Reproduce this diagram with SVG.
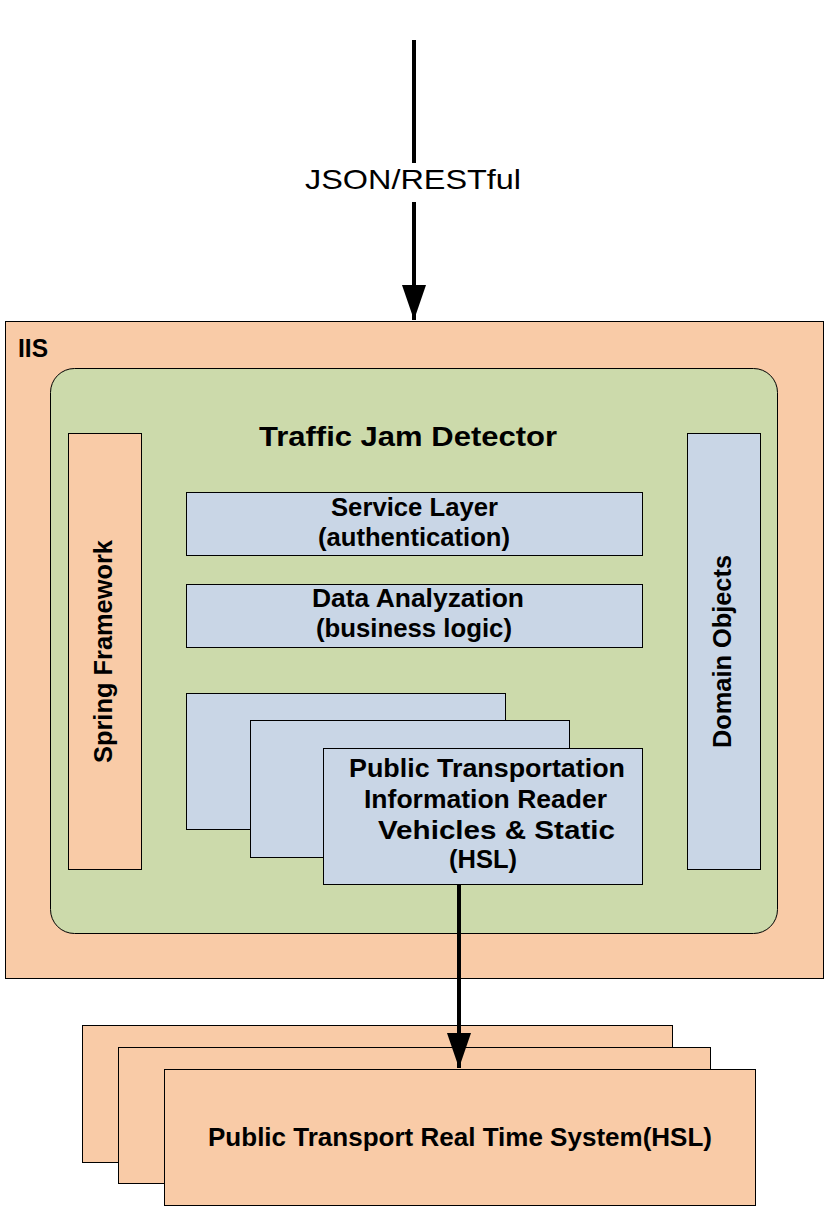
<svg xmlns="http://www.w3.org/2000/svg" width="826" height="1210" viewBox="0 0 826 1210">
<defs>
<style>
.peach{fill:#F9CBA7;stroke:#000;stroke-width:1}
.green{fill:#CCDAAB;stroke:#000;stroke-width:1}
.blue{fill:#C9D6E6;stroke:#000;stroke-width:1}
.t{font-family:"Liberation Sans",Arial,sans-serif;font-weight:bold;fill:#000;text-anchor:middle;font-size:25px}
.conn{stroke:#000;stroke-width:4;fill:none}
</style>
<marker id="ah" markerWidth="35" markerHeight="24" refX="35" refY="12" orient="auto" markerUnits="userSpaceOnUse" viewBox="0 0 35 24">
<path d="M0,0 L35,12 L0,24 Z" fill="#000"/>
</marker>
</defs>
<rect width="826" height="1210" fill="#fff"/>
<g id="iis">
<rect class="peach" x="5.5" y="321.5" width="818" height="657"/>
<text class="t" x="18" y="357" style="text-anchor:start" textLength="30" lengthAdjust="spacingAndGlyphs">IIS</text>
</g>
<g id="traffic-jam-detector">
<rect class="green" x="50.5" y="368.5" width="727" height="565" rx="24"/>
<text class="t" x="408" y="446" style="font-size:27px" textLength="298" lengthAdjust="spacingAndGlyphs">Traffic Jam Detector</text>
</g>
<g id="spring-framework">
<rect class="peach" x="68.5" y="433.5" width="73" height="436"/>
<text class="t" transform="translate(112,651.5) rotate(-90)" textLength="223" lengthAdjust="spacingAndGlyphs">Spring Framework</text>
</g>
<g id="domain-objects">
<rect class="blue" x="687.5" y="433.5" width="73" height="436"/>
<text class="t" transform="translate(731,651.5) rotate(-90)" textLength="193" lengthAdjust="spacingAndGlyphs">Domain Objects</text>
</g>
<g id="service-layer">
<rect class="blue" x="186.5" y="492.5" width="456" height="63"/>
<text class="t" x="414.5" y="516" textLength="167" lengthAdjust="spacingAndGlyphs">Service Layer</text>
<text class="t" x="414" y="546" textLength="192" lengthAdjust="spacingAndGlyphs">(authentication)</text>
</g>
<g id="data-analyzation">
<rect class="blue" x="186.5" y="584.5" width="456" height="63"/>
<text class="t" x="418" y="607" textLength="212" lengthAdjust="spacingAndGlyphs">Data Analyzation</text>
<text class="t" x="414" y="637" textLength="196" lengthAdjust="spacingAndGlyphs">(business logic)</text>
</g>
<g id="pt-reader">
<rect class="blue" x="186.5" y="693.5" width="319" height="136"/>
<rect class="blue" x="250.5" y="720.5" width="319" height="137"/>
<rect class="blue" x="323.5" y="748.5" width="319" height="136"/>
<text class="t" x="487" y="777" textLength="276" lengthAdjust="spacingAndGlyphs">Public Transportation</text>
<text class="t" x="485.5" y="808" textLength="243" lengthAdjust="spacingAndGlyphs">Information Reader</text>
<text class="t" x="496.5" y="839" textLength="237" lengthAdjust="spacingAndGlyphs">Vehicles &amp; Static</text>
<text class="t" x="483" y="868" textLength="68" lengthAdjust="spacingAndGlyphs">(HSL)</text>
</g>
<g id="pt-realtime">
<rect class="peach" x="82.5" y="1025.5" width="590" height="137"/>
<rect class="peach" x="118.5" y="1047.5" width="592" height="136"/>
<rect class="peach" x="164.5" y="1069.5" width="591" height="136"/>
<text class="t" x="460" y="1146" textLength="504" lengthAdjust="spacingAndGlyphs">Public Transport Real Time System(HSL)</text>
</g>
<g id="connectors">
<line class="conn" x1="414" y1="40" x2="414" y2="163"/>
<line class="conn" x1="414" y1="202" x2="414" y2="320" marker-end="url(#ah)"/>
<text x="413" y="189" font-family="Liberation Sans,Arial,sans-serif" font-size="28" text-anchor="middle" fill="#000" textLength="216" lengthAdjust="spacingAndGlyphs">JSON/RESTful</text>
<line class="conn" x1="459" y1="885" x2="459" y2="1068" marker-end="url(#ah)"/>
</g>
</svg>
